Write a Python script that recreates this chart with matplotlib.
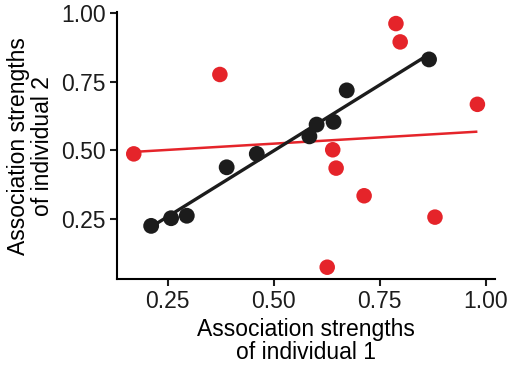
import matplotlib
matplotlib.use("Agg")
import matplotlib.pyplot as plt
import numpy as np

plt.rcParams["font.family"] = ["Liberation Sans", "DejaVu Sans"]

# individual pairs: black = associated, red = not
black_x = [0.211, 0.258, 0.295, 0.389, 0.460, 0.584, 0.601, 0.641, 0.672, 0.866]
black_y = [0.224, 0.252, 0.261, 0.438, 0.487, 0.551, 0.594, 0.604, 0.719, 0.832]
red_x = [0.170, 0.373, 0.788, 0.798, 0.980, 0.639, 0.647, 0.713, 0.880, 0.626]
red_y = [0.487, 0.777, 0.963, 0.896, 0.668, 0.502, 0.435, 0.334, 0.256, 0.073]
ticks = [0.25, 0.50, 0.75, 1.00]
tick_labels = ["0.25", "0.50", "0.75", "1.00"]

BLACK = "#1c1c1c"
RED = "#e5242a"

fig = plt.figure(figsize=(5.1, 3.66), dpi=100)
ax = fig.add_axes([0.229, 0.237, 0.742, 0.730])

for xs, ys, c, lw in [(red_x, red_y, RED, 1.8), (black_x, black_y, BLACK, 2.4)]:
    xs = np.array(xs); ys = np.array(ys)
    k, b = np.polyfit(xs, ys, 1)
    xx = np.array([xs.min(), xs.max()])
    ax.plot(xx, k * xx + b, color=c, lw=lw, zorder=2, solid_capstyle="butt")

ax.scatter(red_x, red_y, s=125, color=RED, edgecolors="none", zorder=3)
ax.scatter(black_x, black_y, s=130, color=BLACK, edgecolors="none", zorder=4)

ax.set_xlim(0.13, 1.022)
ax.set_ylim(0.029, 1.005)
ax.set_xticks(ticks); ax.set_xticklabels(tick_labels)
ax.set_yticks(ticks); ax.set_yticklabels(tick_labels)
for s in ["top", "right"]:
    ax.spines[s].set_visible(False)
for s in ["left", "bottom"]:
    ax.spines[s].set_linewidth(1.5)
ax.tick_params(labelsize=16.5, width=1.5, length=5, pad=3, colors=BLACK)
ax.set_xlabel("Association strengths\nof individual 1", fontsize=16.5, labelpad=3, linespacing=1.05)
ax.set_ylabel("Association strengths\nof individual 2", fontsize=16.5, labelpad=5, linespacing=1.05)

fig.savefig("out.png", dpi=100)
